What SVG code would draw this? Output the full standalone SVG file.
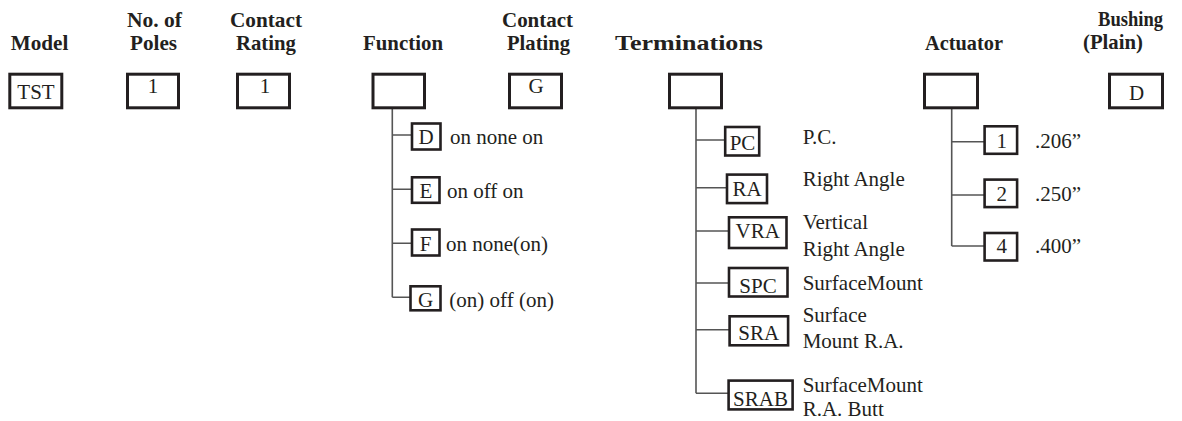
<svg xmlns="http://www.w3.org/2000/svg" width="1182" height="421" viewBox="0 0 1182 421">
<style>
.h{font-family:"Liberation Serif","Times New Roman",serif;font-weight:bold;font-size:21px;fill:#231f20}
.t{font-family:"Liberation Serif","Times New Roman",serif;font-size:21px;fill:#231f20}
.c{text-anchor:middle}
.big{fill:#fff;stroke:#231f20;stroke-width:3}
.sm{fill:#fff;stroke:#231f20;stroke-width:2.6}
.ln{fill:none;stroke:#555;stroke-width:1.6}
</style>
<rect width="1182" height="421" fill="#fff"/>
<g id="headers">
<text class="h" x="10.7" y="50" textLength="57.6" lengthAdjust="spacingAndGlyphs">Model</text>
<text class="h" x="127" y="27" textLength="55" lengthAdjust="spacingAndGlyphs">No. of</text>
<text class="h" x="130" y="50" textLength="47" lengthAdjust="spacingAndGlyphs">Poles</text>
<text class="h" x="230" y="27" textLength="72" lengthAdjust="spacingAndGlyphs">Contact</text>
<text class="h" x="236" y="50" textLength="60" lengthAdjust="spacingAndGlyphs">Rating</text>
<text class="h" x="363" y="50" textLength="80" lengthAdjust="spacingAndGlyphs">Function</text>
<text class="h" x="502" y="27" textLength="71" lengthAdjust="spacingAndGlyphs">Contact</text>
<text class="h" x="507" y="50" textLength="63" lengthAdjust="spacingAndGlyphs">Plating</text>
<text class="h" x="615" y="50" textLength="148" lengthAdjust="spacingAndGlyphs">Terminations</text>
<text class="h" x="925" y="50" textLength="78" lengthAdjust="spacingAndGlyphs">Actuator</text>
<text class="h" x="1098" y="26" textLength="65" lengthAdjust="spacingAndGlyphs">Bushing</text>
<text class="h" x="1083" y="49" textLength="60" lengthAdjust="spacingAndGlyphs">(Plain)</text>
</g>
<g id="connectors">
<path class="ln" d="M392.3 109V297.3M392.3 135H411M392.3 189.3H411M392.3 243.3H411M392.3 297.3H410"/>
<path class="ln" d="M696 109V393.3M696 140H725M696 187.7H727M696 231H729M696 283H729M696 329.7H729.5M696 393.3H728.5"/>
<path class="ln" d="M951.7 109V246M951.7 141.7H984.5M951.7 195H984.5M951.7 246H984.5"/>
</g>
<g id="model"><rect class="big" x="9.8" y="74.2" width="52" height="33.6"/><text class="t c" x="36" y="99.3">TST</text></g>
<g id="poles"><rect class="big" x="127.5" y="74.2" width="51" height="33.6"/><text class="t c" x="153" y="93">1</text></g>
<g id="rating"><rect class="big" x="237.5" y="74.2" width="52" height="33.6"/><text class="t c" x="265" y="93">1</text></g>
<g id="function"><rect class="big" x="373" y="74.2" width="51.5" height="33.6"/></g>
<g id="plating"><rect class="big" x="509.5" y="74.2" width="52" height="33.6"/><text class="t c" x="536" y="93.3">G</text></g>
<g id="terminations"><rect class="big" x="669.5" y="74.2" width="52" height="33.6"/></g>
<g id="actuator"><rect class="big" x="924.5" y="74.2" width="53" height="33.6"/></g>
<g id="bushing"><rect class="big" x="1109.5" y="74.2" width="53" height="33.6"/><text class="t c" x="1136.5" y="100">D</text></g>
<g id="fn-D"><rect class="sm" x="412" y="123.5" width="28.5" height="26"/><text class="t c" x="426" y="144">D</text><text class="t" x="450" y="144">on none on</text></g>
<g id="fn-E"><rect class="sm" x="412" y="177.3" width="27.5" height="25.5"/><text class="t c" x="426" y="198">E</text><text class="t" x="447" y="198">on off on</text></g>
<g id="fn-F"><rect class="sm" x="412" y="229.5" width="27.5" height="26"/><text class="t c" x="425.5" y="250.7">F</text><text class="t" x="446" y="250.7">on none(on)</text></g>
<g id="fn-G"><rect class="sm" x="410.5" y="286.3" width="30" height="24"/><text class="t c" x="425.5" y="306.7">G</text><text class="t" x="449.3" y="306.7">(on) off (on)</text></g>
<g id="t-PC"><rect class="sm" x="725.2" y="127" width="34" height="28.5"/><text class="t c" x="742.5" y="150">PC</text><text class="t" x="802.7" y="144">P.C.</text></g>
<g id="t-RA"><rect class="sm" x="727" y="174.6" width="40" height="28.5"/><text class="t c" x="747" y="196">RA</text><text class="t" x="802.7" y="186">Right Angle</text></g>
<g id="t-VRA"><rect class="sm" x="729" y="217.3" width="57.5" height="30.7"/><text class="t c" x="757.7" y="238.3">VRA</text><text class="t" x="802.7" y="229">Vertical</text><text class="t" x="802.7" y="255.7">Right Angle</text></g>
<g id="t-SPC"><rect class="sm" x="729" y="268" width="58.5" height="28.5"/><text class="t c" x="758" y="292.7">SPC</text><text class="t" x="802.7" y="290">SurfaceMount</text></g>
<g id="t-SRA"><rect class="sm" x="729.6" y="316.3" width="58.5" height="29"/><text class="t c" x="758.8" y="340">SRA</text><text class="t" x="802.7" y="321.7">Surface</text><text class="t" x="802.7" y="348.3">Mount R.A.</text></g>
<g id="t-SRAB"><rect class="sm" x="728.6" y="380.6" width="64" height="28.8"/><text class="t c" x="760.5" y="406">SRAB</text><text class="t" x="802.7" y="392">SurfaceMount</text><text class="t" x="802.7" y="416">R.A. Butt</text></g>
<g id="a-1"><rect class="sm" x="984.6" y="126.3" width="32.5" height="27.5"/><text class="t c" x="1001.7" y="147.7">1</text><text class="t" x="1035" y="147.7">.206”</text></g>
<g id="a-2"><rect class="sm" x="984.6" y="179.6" width="32.5" height="27.5"/><text class="t c" x="1001.7" y="201">2</text><text class="t" x="1035" y="201">.250”</text></g>
<g id="a-4"><rect class="sm" x="984.6" y="233" width="32.5" height="27.5"/><text class="t c" x="1001.7" y="253.3">4</text><text class="t" x="1035" y="253.3">.400”</text></g>
</svg>
